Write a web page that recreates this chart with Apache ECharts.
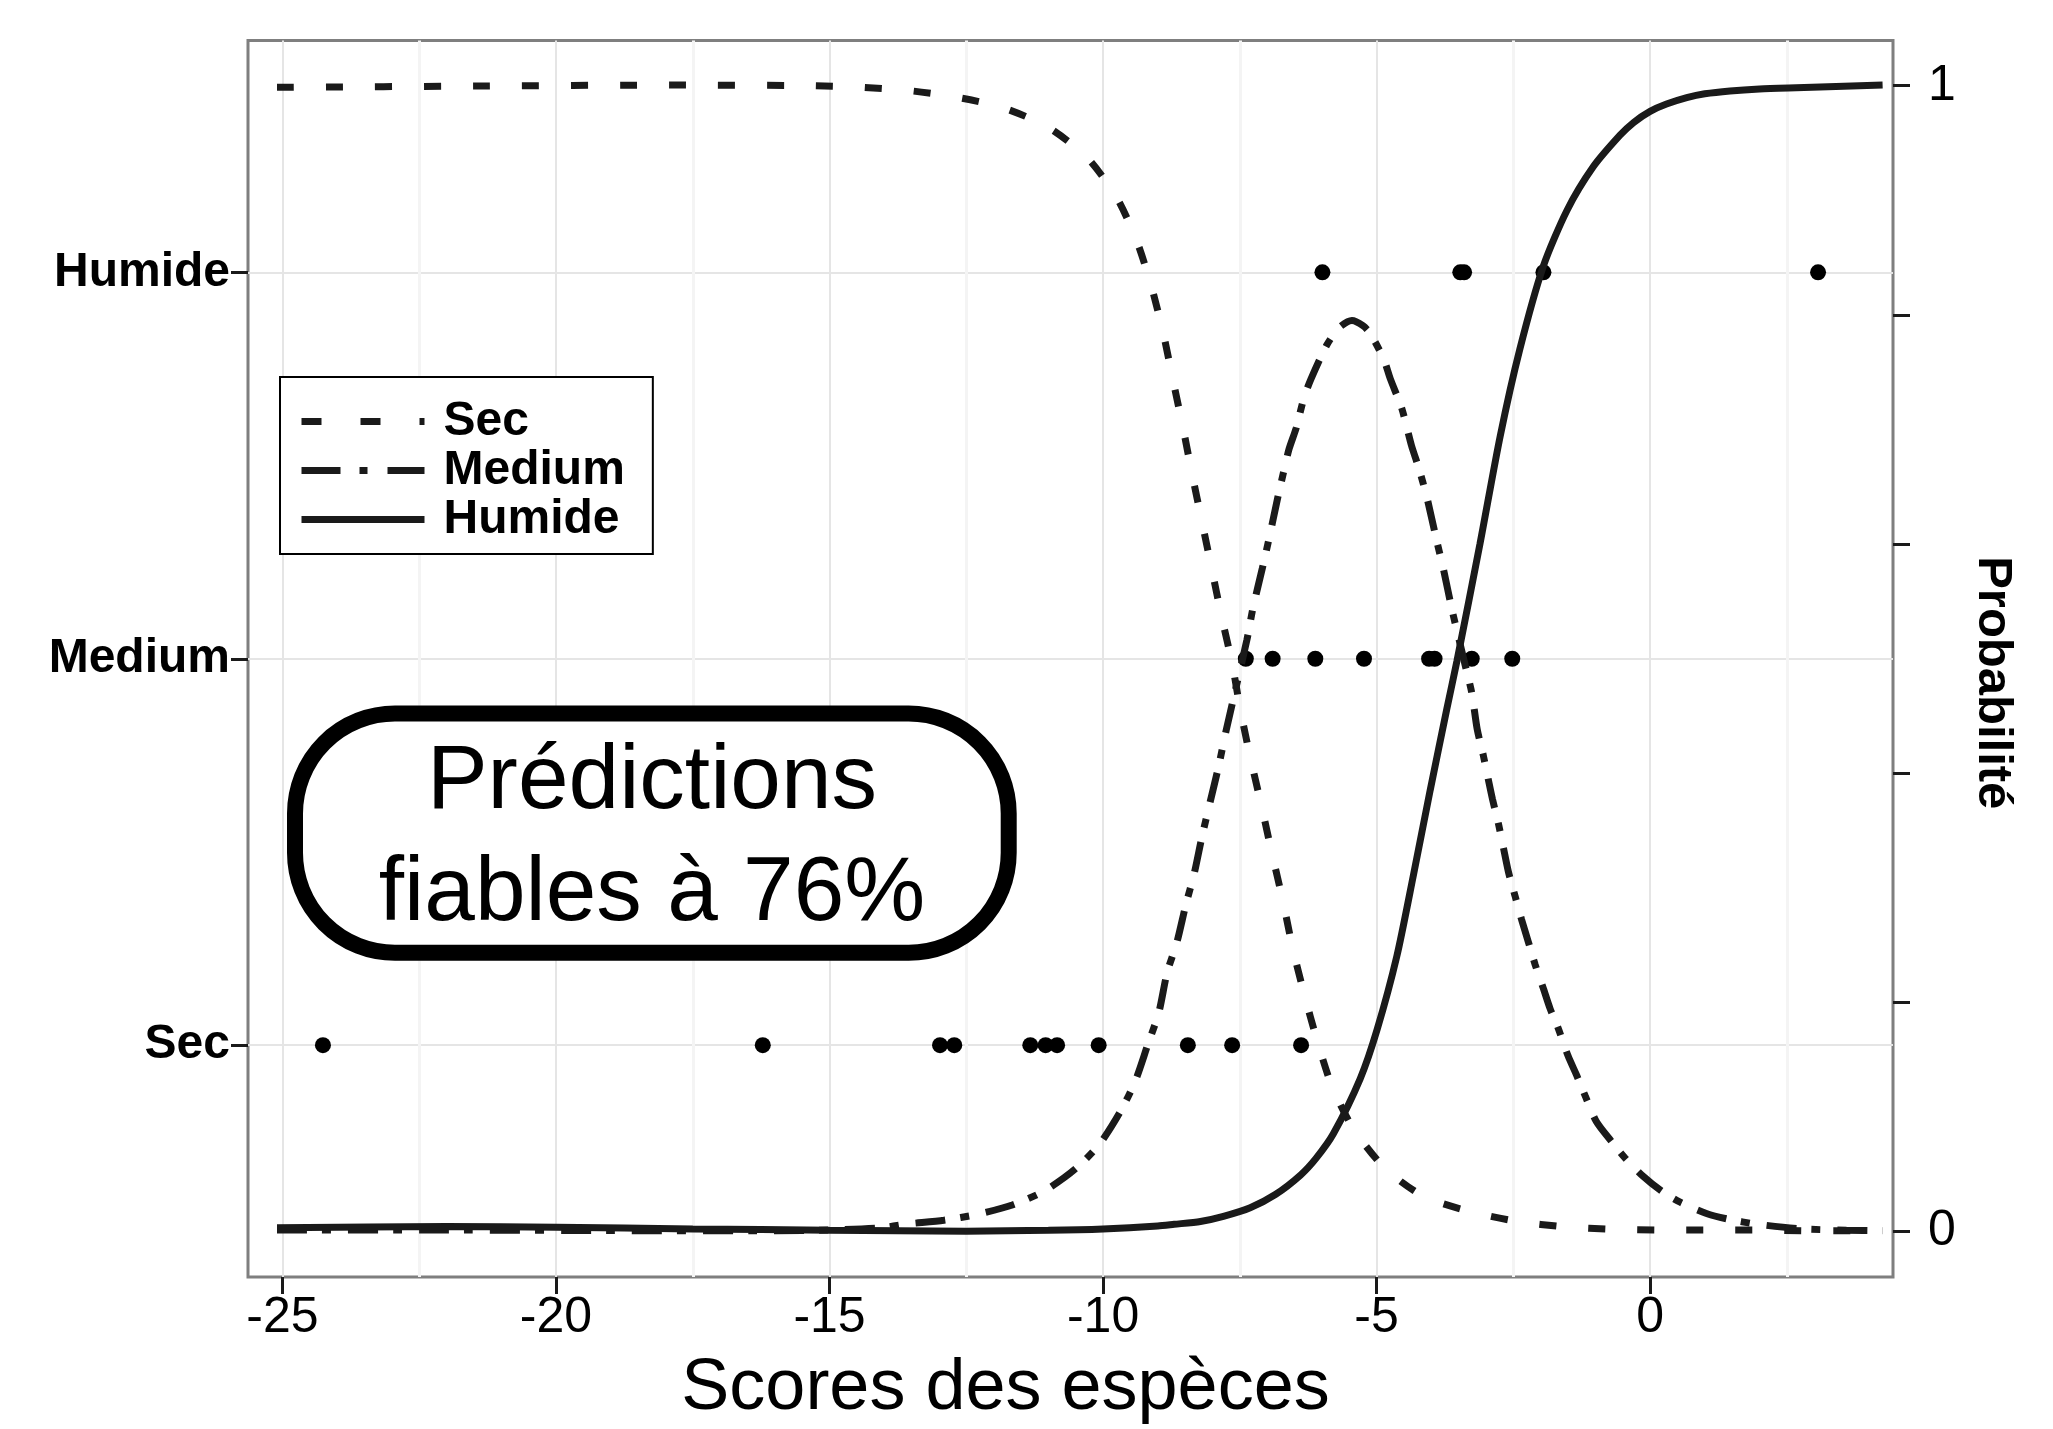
<!DOCTYPE html>
<html><head><meta charset="utf-8">
<script src="https://cdn.jsdelivr.net/npm/echarts@6/dist/echarts.min.js"></script>
<style>html,body{margin:0;padding:0;background:#fff}#c{width:2053px;height:1429px}</style>
</head><body><div id="c"></div>
<script>
// ---- categories & ticks ----
const categories = ['Sec', 'Medium', 'Humide'];
const xTicks = [-25, -20, -15, -10, -5, 0];
const xMinorTicks = [-22.5, -17.5, -12.5, -7.5, -2.5, 2.5];
const probTicks = [0, 0.2, 0.4, 0.6, 0.8, 1];
const probLabels = [0, 1];

// ---- observed species scores per class ----
const secPointsX = [-24.26, -16.22, -12.98, -12.72, -11.33, -11.05, -10.84, -10.08, -8.45, -7.64, -6.38];
const mediumPointsX = [-7.39, -6.90, -6.12, -5.23, -4.04, -3.94, -3.26, -2.52];
const humidePointsX = [-5.99, -3.47, -3.40, -1.95, 3.07];

// ---- predicted probability curves ----
const secCurveX = [-25.1, -21.5, -17.9, -15.3, -14.4, -13.5, -12.6, -11.8, -11.0, -10.3, -9.76, -9.39, -9.12, -8.90, -8.72, -8.54, -8.37, -8.19, -8.01, -7.83, -7.64, -7.49, -7.31, -7.11, -6.91, -6.71, -6.53, -6.32, -6.09, -5.82, -5.42, -4.84, -4.14, -3.30, -2.44, -1.56, -0.67, 0.21, 1.09, 2.0, 2.85, 3.7, 4.25];
const secCurveP = [0.9986, 0.9997, 1.0006, 1.0, 0.9986, 0.9955, 0.9893, 0.9803, 0.9637, 0.9377, 0.9032, 0.8653, 0.8255, 0.7841, 0.7426, 0.7018, 0.6604, 0.6189, 0.5774, 0.5359, 0.4955, 0.4553, 0.4139, 0.3725, 0.3293, 0.2878, 0.2463, 0.2066, 0.1669, 0.1271, 0.0891, 0.0546, 0.0304, 0.0173, 0.0086, 0.0038, 0.0017, 0.001, 0.001, 0.001, 0.0004, 0.0004, 0.0004];

const mediumCurveX = [-25.1, -22, -19, -16, -15, -14.05, -13.61, -12.91, -12.29, -11.66, -11.06, -10.5, -10.06, -9.68, -9.41, -9.19, -8.98, -8.83, -8.65, -8.49, -8.33, -8.19, -8.04, -7.89, -7.75, -7.37, -7.26, -7.09, -6.97, -6.81, -6.69, -6.6, -6.47, -6.33, -6.2, -5.91, -5.68, -5.45, -5.25, -5.12, -4.87, -4.75, -4.54, -4.36, -4.23, -4.08, -3.9, -3.78, -3.62, -3.5, -3.38, -3.26, -3.16, -3.05, -2.96, -2.88, -2.77, -2.68, -2.59, -2.47, -2.35, -2.23, -2.1, -1.95, -1.83, -1.68, -1.5, -1.34, -1.19, -0.98, -0.7, -0.46, -0.13, 0.21, 0.54, 1.03, 1.43, 1.94, 2.77, 3.59, 4.25];
const mediumCurveP = [0.001, 0.001, 0.0005, 0.0004, 0.001, 0.003, 0.0061, 0.0096, 0.0148, 0.0228, 0.0355, 0.0546, 0.0763, 0.1047, 0.1312, 0.1617, 0.191, 0.2256, 0.2522, 0.2843, 0.313, 0.3448, 0.3752, 0.4053, 0.4371, 0.5163, 0.5439, 0.5784, 0.6037, 0.6396, 0.6648, 0.6828, 0.7011, 0.7271, 0.7439, 0.7737, 0.789, 0.795, 0.7905, 0.7841, 0.7615, 0.7443, 0.7184, 0.6856, 0.6665, 0.6406, 0.6026, 0.5784, 0.5422, 0.518, 0.494, 0.47, 0.438, 0.4156, 0.3949, 0.3769, 0.3552, 0.3344, 0.3137, 0.2929, 0.2722, 0.2532, 0.2325, 0.2117, 0.1945, 0.1772, 0.1531, 0.1358, 0.1185, 0.0955, 0.078, 0.064, 0.048, 0.035, 0.0255, 0.0155, 0.0105, 0.0062, 0.002, 0.0009, 0.0005];

const humideCurveX = [-25.1, -22, -20, -17.5, -15, -12.5, -11, -10, -9, -8.7, -8.22, -7.8, -7.31, -6.85, -6.39, -6.1, -5.79, -5.3, -4.99, -4.63, -4.33, -4.02, -3.72, -3.53, -3.11, -2.74, -2.38, -1.95, -1.52, -1.04, -0.55, -0.3, 0, 0.3, 0.67, 1.0, 1.46, 2.0, 2.67, 4.25];
const humideCurveP = [0.003, 0.004, 0.0035, 0.002, 0.0008, 0.0, 0.0008, 0.002, 0.0045, 0.006, 0.0085, 0.013, 0.0205, 0.032, 0.049, 0.064, 0.085, 0.133, 0.176, 0.24, 0.31, 0.385, 0.455, 0.498, 0.6, 0.6941, 0.7702, 0.8427, 0.8911, 0.9292, 0.9568, 0.968, 0.9776, 0.984, 0.9896, 0.993, 0.9955, 0.9972, 0.9983, 1.0007];

// ---- build ----
const FONT = '"Liberation Sans", Arial, Helvetica, sans-serif';
const INK = '#1a1a1a';
const zip = (xs, ys) => xs.map((x, i) => [x, ys[i]]);
const rowPts = (xs, level) => xs.map(x => [x, level]);

const chart = echarts.init(document.getElementById('c'), null, {renderer: 'canvas'});

const tickStyle = {show: true, length: 17, inside: false, lineStyle: {color: INK, width: 3}};
const noLine = {show: false, onZero: false};

const option = {
  animation: false,
  backgroundColor: '#ffffff',
  grid: {
    left: 248, right: 160, top: 40.5, bottom: 152,
    containLabel: false, outerBoundsMode: 'none',
    show: true, borderColor: '#7f7f7f', borderWidth: 3, backgroundColor: '#ffffff'
  },
  xAxis: [
    {
      type: 'value', min: -25.63, max: 4.44, position: 'bottom',
      axisLine: noLine,
      axisTick: Object.assign({customValues: xTicks}, tickStyle),
      axisLabel: {customValues: xTicks, fontSize: 50, fontFamily: FONT, color: '#000', margin: 16, lineHeight: 50},
      splitLine: {show: true, lineStyle: {color: '#e5e5e5', width: 2}},
      name: 'Scores des espèces', nameLocation: 'middle', nameGap: 76,
      nameTextStyle: {fontSize: 72, fontFamily: FONT, color: '#000', lineHeight: 72, padding: [0, 130, 0, 0]}
    },
    {
      type: 'value', min: -25.63, max: 4.44, position: 'bottom',
      axisLine: noLine,
      axisTick: {show: false, customValues: xMinorTicks},
      axisLabel: {show: false, customValues: xMinorTicks},
      splitLine: {show: true, lineStyle: {color: '#f4f4f4', width: 3}}
    }
  ],
  yAxis: [
    {
      type: 'value', min: 0.4, max: 3.6, position: 'left',
      axisLine: noLine,
      axisTick: Object.assign({customValues: [1, 2, 3]}, tickStyle),
      axisLabel: {
        customValues: [1, 2, 3], fontSize: 48, fontWeight: 'bold', fontFamily: FONT, color: '#000', margin: 18,
        formatter: v => categories[Math.round(v) - 1]
      },
      splitLine: {show: true, lineStyle: {color: '#e5e5e5', width: 2}}
    },
    {
      type: 'value', min: -0.04, max: 1.0395, position: 'right',
      axisLine: noLine,
      axisTick: Object.assign({customValues: probTicks}, tickStyle),
      axisLabel: {customValues: probLabels, fontSize: 50, fontFamily: FONT, color: '#000', margin: 35,
        formatter: v => String(v)},
      splitLine: {show: false},
      name: 'Probabilité', nameLocation: 'middle', nameRotate: -90, nameGap: 75,
      nameTextStyle: {fontSize: 49, fontWeight: 'bold', fontFamily: FONT, color: '#000', lineHeight: 50, padding: [0, 0, 0, 48]}
    }
  ],
  legend: {
    data: [
      {name: 'Sec', lineStyle: {type: [20, 39]}},
      {name: 'Medium', lineStyle: {type: [39, 19, 8, 20]}},
      {name: 'Humide'}
    ],
    orient: 'vertical', left: 280, top: 377,
    itemWidth: 123, itemHeight: 49, itemGap: 0,
    padding: [20, 28, 10, 18],
    borderColor: '#000', borderWidth: 2, borderRadius: 0, backgroundColor: '#ffffff',
    lineStyle: {width: 7, cap: 'butt'},
    itemStyle: {opacity: 0},
    selectedMode: false,
    textStyle: {fontSize: 48, fontWeight: 'bold', fontFamily: FONT, color: '#000', lineHeight: 49, padding: [0, 0, 0, 14]}
  },
  series: [
    {name: 'obs Sec', type: 'scatter', xAxisIndex: 0, yAxisIndex: 0, data: rowPts(secPointsX, 1), symbolSize: 16, itemStyle: {color: '#000', opacity: 1}, z: 2},
    {name: 'obs Medium', type: 'scatter', xAxisIndex: 0, yAxisIndex: 0, data: rowPts(mediumPointsX, 2), symbolSize: 16, itemStyle: {color: '#000', opacity: 1}, z: 2},
    {name: 'obs Humide', type: 'scatter', xAxisIndex: 0, yAxisIndex: 0, data: rowPts(humidePointsX, 3), symbolSize: 16, itemStyle: {color: '#000', opacity: 1}, z: 2},
    {name: 'Sec', type: 'line', xAxisIndex: 0, yAxisIndex: 1, data: zip(secCurveX, secCurveP), showSymbol: false, symbol: 'none', smooth: 0.25,
      lineStyle: {color: INK, width: 7, type: [17, 32], cap: 'butt'}, itemStyle: {color: INK}, z: 3},
    {name: 'Medium', type: 'line', xAxisIndex: 0, yAxisIndex: 1, data: zip(mediumCurveX, mediumCurveP), showSymbol: false, symbol: 'none', smooth: 0.25,
      lineStyle: {color: INK, width: 7, type: [30, 15, 9, 17], cap: 'butt'}, itemStyle: {color: INK}, z: 3},
    {name: 'Humide', type: 'line', xAxisIndex: 0, yAxisIndex: 1, data: zip(humideCurveX, humideCurveP), showSymbol: false, symbol: 'none', smooth: 0.25,
      lineStyle: {color: INK, width: 7, type: 'solid', cap: 'butt'}, itemStyle: {color: INK}, z: 3}
  ],
  graphic: [
    {
      type: 'rect', z: 50,
      shape: {x: 295, y: 713.5, width: 713.7, height: 239.3, r: 100},
      style: {fill: '#ffffff', stroke: '#000', lineWidth: 16}
    },
    {
      type: 'text', z: 51, x: 652, y: 839,
      style: {text: 'Prédictions\nfiables à 76%', font: '91px "Liberation Sans", Arial, sans-serif', fill: '#000',
        align: 'center', verticalAlign: 'middle', lineHeight: 112}
    }
  ]
};
chart.setOption(option);
</script>
</body></html>
